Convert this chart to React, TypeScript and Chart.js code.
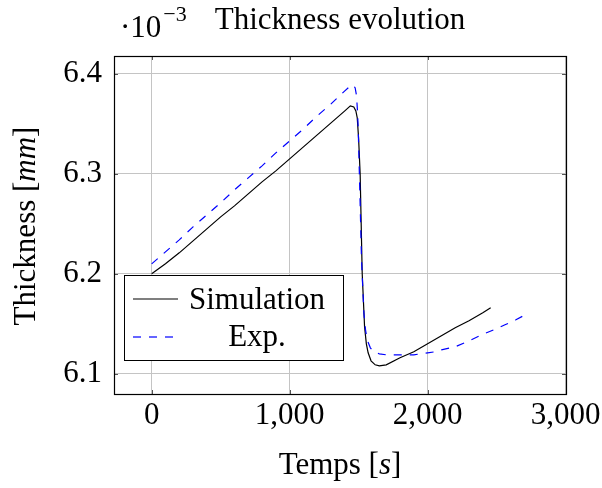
import React, { useEffect, useRef } from 'react';
import { Chart, registerables } from 'chart.js';

Chart.register(...registerables);

// Thickness values are in units of 10^-3 mm
const simTime = [0, 100, 200, 300, 400, 500, 600, 700, 800, 900, 1000, 1100, 1200, 1300, 1400, 1440, 1465, 1480, 1490, 1500, 1511, 1526, 1543, 1556, 1569, 1590, 1620, 1650, 1700, 1800, 1900, 2000, 2100, 2200, 2300, 2400, 2457];
const simThickness = [6.200, 6.210, 6.221, 6.233, 6.245, 6.257, 6.268, 6.280, 6.292, 6.303, 6.315, 6.327, 6.339, 6.351, 6.363, 6.368, 6.367, 6.363, 6.356, 6.335, 6.300, 6.200, 6.147, 6.130, 6.121, 6.113, 6.109, 6.108, 6.109, 6.116, 6.122, 6.130, 6.138, 6.146, 6.153, 6.161, 6.166];

const expTime = [0, 100, 200, 300, 400, 500, 600, 700, 800, 900, 1000, 1100, 1200, 1300, 1400, 1440, 1460, 1475, 1485, 1492, 1497, 1509, 1521, 1538, 1550, 1562, 1585, 1610, 1650, 1700, 1800, 1900, 1950, 2000, 2055, 2100, 2200, 2300, 2392, 2480, 2561, 2640, 2720];
const expThickness = [6.210, 6.222, 6.234, 6.247, 6.259, 6.271, 6.284, 6.296, 6.308, 6.321, 6.333, 6.345, 6.358, 6.370, 6.383, 6.388, 6.389, 6.386, 6.378, 6.362, 6.345, 6.281, 6.214, 6.161, 6.144, 6.134, 6.126, 6.122, 6.120, 6.119, 6.119, 6.119, 6.120, 6.121, 6.122, 6.124, 6.127, 6.133, 6.139, 6.144, 6.149, 6.154, 6.160];

const xTicks = [0, 1000, 2000, 3000];
const yTicks = [6.1, 6.2, 6.3, 6.4];

const titleText = 'Thickness evolution';
const simLabel = 'Simulation';
const expLabel = 'Exp.';

const FONT = '"Liberation Serif", "DejaVu Serif", serif';

const overlayPlugin = {
  id: 'pgfOverlay',
  afterDatasetsDraw(chart: any) {
    const { ctx, chartArea: ca, scales } = chart;
    const xs = scales.x;
    const ys = scales.y;
    ctx.save();
    // inward tick marks
    ctx.strokeStyle = '#555';
    ctx.lineWidth = 1;
    ctx.beginPath();
    xTicks.forEach((v) => {
      const p = Math.round(xs.getPixelForValue(v)) + 0.5;
      ctx.moveTo(p, ca.bottom);
      ctx.lineTo(p, ca.bottom - 4);
      ctx.moveTo(p, ca.top);
      ctx.lineTo(p, ca.top + 4);
    });
    yTicks.forEach((v) => {
      const p = Math.round(ys.getPixelForValue(v)) + 0.5;
      ctx.moveTo(ca.left, p);
      ctx.lineTo(ca.left + 4, p);
      ctx.moveTo(ca.right, p);
      ctx.lineTo(ca.right - 4, p);
    });
    ctx.stroke();
    // axis box
    ctx.strokeStyle = '#000';
    ctx.lineWidth = 1.2;
    ctx.strokeRect(Math.round(ca.left) + 0.5, Math.round(ca.top) + 0.5, Math.round(ca.right - ca.left), Math.round(ca.bottom - ca.top));

    // legend
    const lx = ca.left + 10;
    const lw = 219;
    const lh = 85;
    const ly = ca.bottom - 34 - lh;
    ctx.fillStyle = '#fff';
    ctx.fillRect(lx, ly, lw, lh);
    ctx.strokeStyle = '#000';
    ctx.lineWidth = 1;
    ctx.strokeRect(lx + 0.5, ly + 0.5, lw, lh);
    ctx.lineWidth = 1.2;
    ctx.beginPath();
    ctx.moveTo(lx + 9, ly + 24);
    ctx.lineTo(lx + 54, ly + 24);
    ctx.stroke();
    ctx.strokeStyle = '#0000ff';
    ctx.setLineDash([8, 8]);
    ctx.beginPath();
    ctx.moveTo(lx + 9, ly + 62);
    ctx.lineTo(lx + 54, ly + 62);
    ctx.stroke();
    ctx.setLineDash([]);
    ctx.fillStyle = '#000';
    ctx.font = `31px ${FONT}`;
    ctx.textAlign = 'center';
    ctx.textBaseline = 'alphabetic';
    ctx.fillText(simLabel, lx + 133, ly + 34);
    ctx.fillText(expLabel, lx + 133, ly + 71);
    ctx.restore();
  },
  afterDraw(chart: any) {
    const { ctx, chartArea: ca } = chart;
    ctx.save();
    ctx.fillStyle = '#000';
    ctx.textBaseline = 'alphabetic';
    // title
    ctx.font = `31px ${FONT}`;
    ctx.textAlign = 'center';
    ctx.fillText(titleText, (ca.left + ca.right) / 2, 28.5);
    // multiplier
    ctx.textAlign = 'left';
    ctx.font = `31px ${FONT}`;
    const base = '\u00b710';
    ctx.fillText(base, 120, 36.5);
    const bw = ctx.measureText(base).width;
    ctx.font = `22px ${FONT}`;
    ctx.fillText('\u22123', 120 + bw + 2, 21);

    // x title: Temps [s]
    const drawMixed = (parts: { t: string; it: boolean }[], cx: number, y: number) => {
      let total = 0;
      const widths = parts.map((p) => {
        ctx.font = `${p.it ? 'italic ' : ''}31px ${FONT}`;
        const w = ctx.measureText(p.t).width;
        total += w;
        return w;
      });
      let x = cx - total / 2;
      ctx.textAlign = 'left';
      parts.forEach((p, i) => {
        ctx.font = `${p.it ? 'italic ' : ''}31px ${FONT}`;
        ctx.fillText(p.t, x, y);
        x += widths[i];
      });
    };
    drawMixed([{ t: 'Temps [', it: false }, { t: 's', it: true }, { t: ']', it: false }], (ca.left + ca.right) / 2, 474);

    ctx.translate(35, (ca.top + ca.bottom) / 2 + 1);
    ctx.rotate(-Math.PI / 2);
    drawMixed([{ t: 'Thickness [', it: false }, { t: 'mm', it: true }, { t: ']', it: false }], 0, 0);
    ctx.restore();
  },
};

export default function App() {
  const canvasRef = useRef<HTMLCanvasElement | null>(null);

  useEffect(() => {
    document.body.style.margin = '0';
    const canvas = canvasRef.current;
    if (!canvas) return;
    const simData = simTime.map((t, i) => ({ x: t, y: simThickness[i] }));
    const expData = expTime.map((t, i) => ({ x: t, y: expThickness[i] }));
    const chart = new Chart(canvas, {
      type: 'line',
      data: {
        datasets: [
          {
            label: simLabel,
            data: simData,
            borderColor: '#000',
            borderWidth: 1.2,
            pointRadius: 0,
            tension: 0,
            fill: false,
            order: 1,
          },
          {
            label: expLabel,
            data: expData,
            borderColor: '#0000ff',
            borderWidth: 1.2,
            borderDash: [8, 8],
            pointRadius: 0,
            tension: 0,
            fill: false,
            order: 0,
          },
        ],
      },
      options: {
        animation: false,
        responsive: false,
        maintainAspectRatio: false,
        devicePixelRatio: 1,
        layout: { padding: { left: 0, right: 36, top: 56, bottom: 0 } },
        plugins: {
          legend: { display: false },
          title: { display: false },
          tooltip: { enabled: false },
        },
        scales: {
          x: {
            type: 'linear',
            min: -273,
            max: 3003,
            afterFit: (s: any) => {
              s.height = 94;
              s.paddingLeft = 0;
              s.paddingRight = 0;
            },
            afterBuildTicks: (s: any) => {
              s.ticks = xTicks.map((v) => ({ value: v }));
            },
            border: { display: false },
            grid: { color: '#c4c4c4', lineWidth: 1, drawTicks: false },
            ticks: {
              padding: 3,
              color: '#000',
              maxRotation: 0,
              autoSkip: false,
              font: { family: FONT, size: 31 },
              callback: (v: any) => Number(v).toLocaleString('en-US'),
            },
          },
          y: {
            type: 'linear',
            min: 6.0798,
            max: 6.4179,
            afterFit: (s: any) => {
              s.width = 114;
              s.paddingTop = 0;
              s.paddingBottom = 0;
            },
            afterBuildTicks: (s: any) => {
              s.ticks = yTicks.map((v) => ({ value: v }));
            },
            border: { display: false },
            grid: { color: '#c4c4c4', lineWidth: 1, drawTicks: false },
            ticks: {
              padding: 12,
              color: '#000',
              autoSkip: false,
              font: { family: FONT, size: 31 },
              callback: (v: any) => Number(v).toFixed(1),
            },
          },
        },
      },
      plugins: [overlayPlugin],
    });
    return () => chart.destroy();
  }, []);

  return (
    <div style={{ width: 602, height: 488 }}>
      <canvas ref={canvasRef} width={602} height={488} style={{ display: 'block', width: 602, height: 488 }} />
    </div>
  );
}
